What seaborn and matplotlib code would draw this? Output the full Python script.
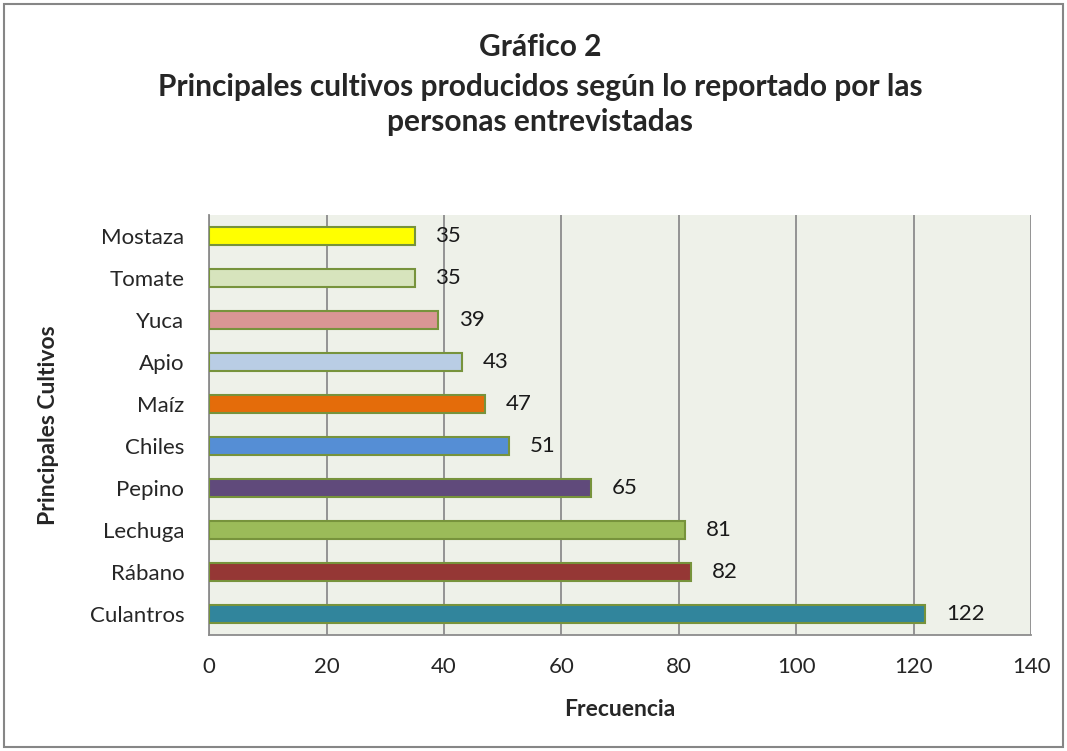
import matplotlib
matplotlib.use('Agg')
import matplotlib.pyplot as plt
import seaborn as sns
import pandas as pd
from matplotlib.patches import Rectangle

#### DATA ####
cultivos = ['Mostaza', 'Tomate', 'Yuca', 'Apio', 'Maíz', 'Chiles',
            'Pepino', 'Lechuga', 'Rábano', 'Culantros']
frecuencia = [35, 35, 39, 43, 47, 51, 65, 81, 82, 122]
colores = ['#FFFF00', '#D7E4BD', '#D99694', '#B9CDE5', '#E46C0A',
           '#558ED5', '#604A7B', '#9BBB59', '#953735', '#31859C']
x_ticks = [0, 20, 40, 60, 80, 100, 120, 140]

df = pd.DataFrame({'Cultivo': cultivos, 'Frecuencia': frecuencia})

sns.set_style('white')
plt.rcParams['font.family'] = ['Lato', 'DejaVu Sans']

fig = plt.figure(figsize=(10.67, 7.51), dpi=100)
fig.patches.append(Rectangle((0.004, 0.005), 0.992, 0.99, transform=fig.transFigure,
                             fill=False, edgecolor='#868686', linewidth=1.5))
ax = fig.add_axes([0.196, 0.1545, 0.7704, 0.5592])
ax.set_facecolor('#EEF1E9')

_ = sns.barplot(data=df, x='Frecuencia', y='Cultivo', hue='Cultivo',
                palette=colores, saturation=1, legend=False, width=0.42,
                edgecolor='#77933C', linewidth=1.5, ax=ax, zorder=3)

for c in ax.containers:
    ax.bar_label(c, padding=15, fontsize=16, color='#1a1a1a')

ax.set_xlim(0, 140)
ax.set_xticks(x_ticks)
ax.set_ylim(9.5, -0.5)
ax.grid(axis='x', color='#8C8C8C', linewidth=1.3, zorder=0)
ax.set_axisbelow(True)
for s in ['top', 'right']:
    ax.spines[s].set_visible(False)
for s in ['left', 'bottom']:
    ax.spines[s].set_color('#8C8C8C')
    ax.spines[s].set_linewidth(1.3)
ax.tick_params(axis='x', length=6, color='#8C8C8C', labelsize=16, pad=10)
ax.tick_params(axis='y', length=0, labelsize=16, pad=18)

ax.set_xlabel('Frecuencia', fontsize=16.5, fontweight='bold', labelpad=16)
ax.set_ylabel('Principales Cultivos', fontsize=16.5, fontweight='bold', labelpad=22)

fig.text(0.506, 0.937, 'Gráfico 2', ha='center', va='center',
         fontsize=21.5, fontweight='bold')
fig.text(0.506, 0.884, 'Principales cultivos producidos según lo reportado por las',
         ha='center', va='center', fontsize=21.5, fontweight='bold')
fig.text(0.506, 0.838, 'personas entrevistadas', ha='center', va='center',
         fontsize=21.5, fontweight='bold')

plt.savefig('out.png', dpi=100)
